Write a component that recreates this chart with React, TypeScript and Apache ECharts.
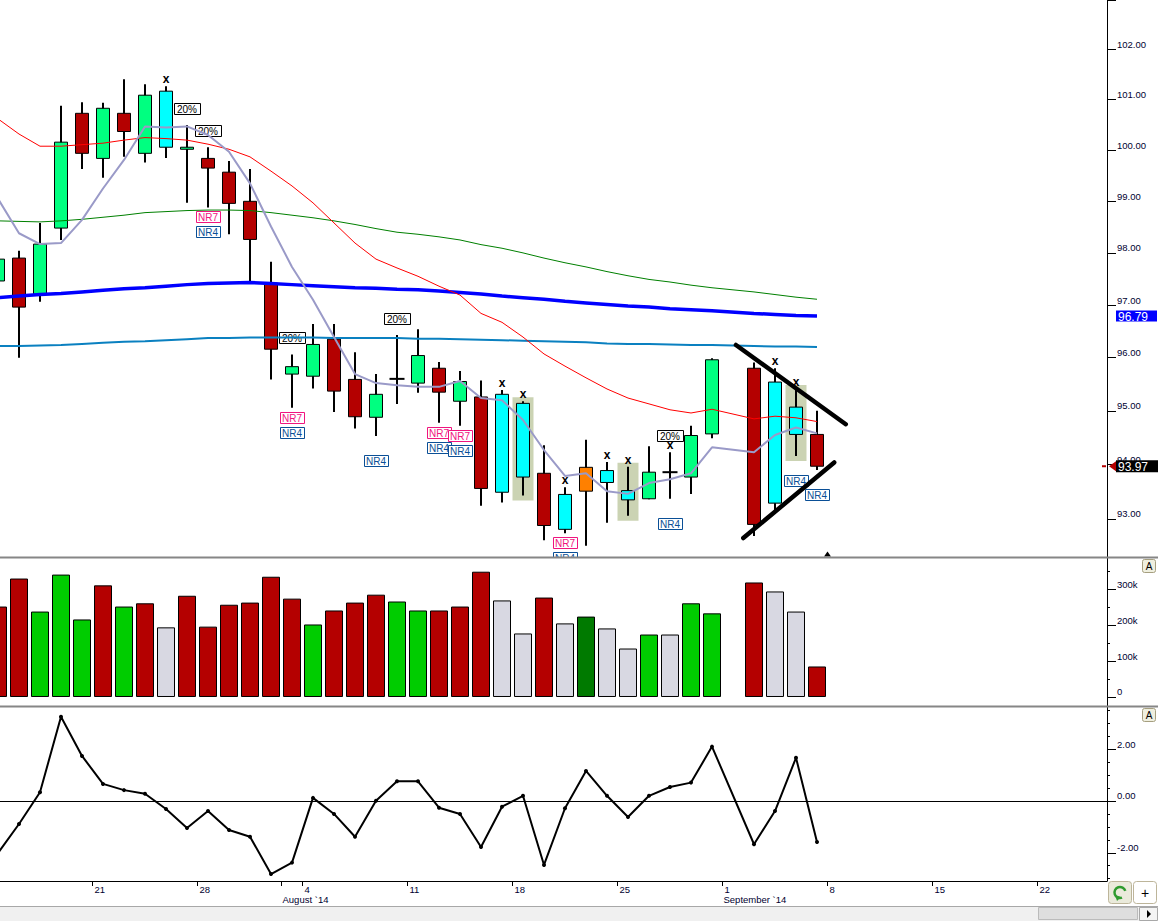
import React, { useEffect, useRef } from "react";
import * as echarts from "echarts";

// ---------- categories (trading-day slots, Sep 1 is a holiday slot) ----------
const DATES = [
  "2014-07-14", "2014-07-15", "2014-07-16", "2014-07-17", "2014-07-18",
  "2014-07-21", "2014-07-22", "2014-07-23", "2014-07-24", "2014-07-25",
  "2014-07-28", "2014-07-29", "2014-07-30", "2014-07-31", "2014-08-01",
  "2014-08-04", "2014-08-05", "2014-08-06", "2014-08-07", "2014-08-08",
  "2014-08-11", "2014-08-12", "2014-08-13", "2014-08-14", "2014-08-15",
  "2014-08-18", "2014-08-19", "2014-08-20", "2014-08-21", "2014-08-22",
  "2014-08-25", "2014-08-26", "2014-08-27", "2014-08-28", "2014-08-29",
  "2014-09-01", "2014-09-02", "2014-09-03", "2014-09-04", "2014-09-05",
  "2014-09-08", "2014-09-09", "2014-09-10", "2014-09-11", "2014-09-12",
  "2014-09-15", "2014-09-16", "2014-09-17", "2014-09-18", "2014-09-19",
  "2014-09-22", "2014-09-23", "2014-09-24", "2014-09-25", "2014-09-26",
];
const MONTH_NAMES = ["January", "February", "March", "April", "May", "June", "July", "August", "September", "October", "November", "December"];

// ---------- price series ----------
const OPEN = [97.46, 97.90, 97.20, 98.48, 100.73, 99.84, 100.73, 99.94, 101.17, 100.02, 99.84, 99.57, 99.00, 97.42, 95.69, 95.65, 96.35, 95.59, 94.88, 95.60, 95.52, 95.80, 95.18, 95.26, 93.49, 95.14, 93.84, 92.81, 93.51, 93.89, 93.52, 93.37, 93.86, 93.77, 94.57, null, 95.80, 93.29, 95.07, 94.56];
const CLOSE = [97.88, 96.96, 98.17, 100.16, 99.94, 100.83, 100.37, 101.09, 100.06, 100.06, 99.65, 98.96, 98.26, 96.16, 95.83, 96.25, 95.37, 94.89, 95.31, 95.60, 96.04, 95.35, 95.55, 93.56, 95.31, 93.77, 92.88, 93.45, 93.95, 93.67, 93.35, 93.86, 93.86, 94.54, 95.96, null, 92.90, 95.54, 94.56, 93.97];
const HIGH = [97.96, 98.04, 98.58, 100.88, 100.95, 100.94, 101.41, 101.31, 101.27, 100.50, 100.06, 99.79, 99.63, 97.83, 96.06, 96.64, 96.64, 96.10, 95.69, 96.43, 96.54, 95.92, 95.75, 95.57, 95.39, 95.18, 94.36, 93.58, 94.46, 94.05, 93.96, 94.34, 94.23, 94.72, 95.99, null, 95.91, 95.80, 95.41, 95.00];
const LOW = [97.38, 96.00, 97.06, 98.25, 99.63, 99.46, 99.87, 99.76, 99.85, 98.97, 98.88, 98.36, 97.44, 95.59, 95.06, 95.42, 94.98, 94.67, 94.53, 95.13, 95.34, 94.78, 94.72, 93.24, 93.30, 93.43, 92.61, 92.74, 92.51, 92.93, 93.06, 93.36, 93.37, 93.46, 94.49, null, 92.69, 93.13, 94.16, 93.90];
const CANDLE_KIND = ["up", "down", "up", "up", "down", "up", "down", "up", "cyan", "up", "down", "down", "down", "down", "up", "up", "down", "down", "up", "doji", "up", "down", "up", "down", "cyan", "cyan", "down", "cyan", "orange", "cyan", "cyan", "up", "doji", "up", "up", null, "down", "cyan", "cyan", "down"];

// ---------- moving averages ----------
const MA_RED = [100.62, 100.32, 100.08, 100.08, 100.11, 100.14, 100.20, 100.25, 100.23, 100.20, 100.12, 100.02, 99.87, 99.59, 99.30, 98.97, 98.58, 98.19, 97.88, 97.71, 97.55, 97.36, 97.19, 96.84, 96.67, 96.39, 96.07, 95.84, 95.62, 95.41, 95.24, 95.13, 95.02, 94.96, 95.03, null, 94.85, 94.90, 94.87, 94.80];
const MA_LAVENDER = [99.05, 98.38, 98.17, 98.19, 98.64, 99.25, 99.81, 100.47, 100.45, 100.47, 100.30, 99.97, 99.35, 98.51, 97.73, 97.10, 96.39, 95.69, 95.52, 95.48, 95.45, 95.45, 95.56, 95.24, 95.20, 94.83, 94.27, 93.79, 93.84, 93.51, 93.46, 93.66, 93.73, 93.84, 94.32, null, 94.23, 94.55, 94.69, 94.58];
const MA_GREEN = [98.62, 98.61, 98.60, 98.62, 98.65, 98.69, 98.73, 98.78, 98.80, 98.82, 98.83, 98.83, 98.82, 98.78, 98.73, 98.68, 98.62, 98.55, 98.47, 98.40, 98.36, 98.31, 98.25, 98.16, 98.09, 98.00, 97.90, 97.81, 97.73, 97.64, 97.56, 97.49, 97.44, 97.38, 97.33, null, 97.25, 97.20, 97.15, 97.11];
const MA_BLUE = [97.14, 97.17, 97.20, 97.22, 97.25, 97.28, 97.31, 97.33, 97.36, 97.39, 97.41, 97.42, 97.43, 97.41, 97.39, 97.37, 97.35, 97.33, 97.32, 97.30, 97.29, 97.27, 97.24, 97.21, 97.17, 97.14, 97.11, 97.07, 97.04, 97.01, 96.98, 96.96, 96.93, 96.91, 96.89, null, 96.84, 96.82, 96.80, 96.79];
const MA_LIGHTBLUE = [96.22, 96.22, 96.23, 96.24, 96.26, 96.28, 96.30, 96.31, 96.33, 96.35, 96.37, 96.37, 96.38, 96.38, 96.38, 96.38, 96.37, 96.37, 96.37, 96.37, 96.36, 96.36, 96.35, 96.34, 96.33, 96.32, 96.31, 96.30, 96.29, 96.27, 96.26, 96.26, 96.25, 96.24, 96.24, null, 96.22, 96.21, 96.21, 96.20];

// ---------- volume ----------
const VOLUME = [252000, 330000, 238000, 341000, 216000, 311000, 252000, 261000, 194000, 282000, 196000, 257000, 263000, 335000, 274000, 202000, 241000, 263000, 285000, 266000, 241000, 241000, 252000, 349000, 269000, 177000, 277000, 205000, 224000, 191000, 135000, 174000, 174000, 261000, 233000, null, 319000, 294000, 238000, 85000];
const VOLUME_KIND = ["red", "red", "green", "green", "green", "red", "green", "red", "gray", "red", "red", "red", "red", "red", "red", "green", "red", "red", "red", "green", "green", "red", "red", "red", "gray", "gray", "red", "gray", "dark", "gray", "gray", "green", "gray", "green", "green", null, "red", "gray", "gray", "red"];

// ---------- oscillator ----------
const OSC = [-2.01, -0.89, 0.34, 3.25, 1.74, 0.66, 0.42, 0.28, -0.31, -1.04, -0.39, -1.12, -1.38, -2.82, -2.38, 0.12, -0.50, -1.38, 0.01, 0.76, 0.76, -0.26, -0.50, -1.78, -0.22, 0.20, -2.47, -0.28, 1.16, 0.20, -0.62, 0.20, 0.54, 0.71, 2.10, null, -1.67, -0.39, 1.67, -1.58];

// ---------- annotations ----------
const X_MARK_DATES = ["2014-07-24", "2014-08-15", "2014-08-18", "2014-08-20", "2014-08-22", "2014-08-25", "2014-08-27", "2014-09-03", "2014-09-04"];
const SHADE_DATES = ["2014-08-18", "2014-08-25", "2014-09-04"];
const PCT20_DATES = ["2014-07-25", "2014-07-28", "2014-08-01", "2014-08-08", "2014-08-27"];
const NR7_DATES = ["2014-07-28", "2014-08-01", "2014-08-12", "2014-08-13", "2014-08-20"];
const NR4_DATES = ["2014-07-28", "2014-08-01", "2014-08-07", "2014-08-12", "2014-08-13", "2014-08-20", "2014-08-27", "2014-09-04", "2014-09-05"];
// trend lines: [slot index, price]
const TREND_UPPER = [[35.14, 96.24], [40.37, 94.75]];
const TREND_LOWER = [[35.49, 92.65], [39.82, 94.04]];

// ---------- tick labels ----------
const PRICE_TICKS = [93, 94, 95, 96, 97, 98, 99, 100, 101, 102, 103];
const PRICE_LABELS = [93, 94, 95, 96, 97, 98, 99, 100, 101, 102];
const VOL_TICKS = [0, 100000, 200000, 300000];
const VOL_MINOR = [50000, 150000, 250000, 350000];
const OSC_TICKS = [-2, 0, 2];
const OSC_MINOR = [-3, -2.5, -1.5, -1, -0.5, 0.5, 1, 1.5, 2.5, 3, 3.5];

// ---------- styling ----------
const FONT = '"Liberation Sans", Arial, sans-serif';
const CANDLE_COLORS: Record<string, string> = { up: "#00FF80", down: "#B40000", cyan: "#00FFFF", orange: "#FF8000" };
const VOLUME_COLORS: Record<string, string> = { red: "#B40000", green: "#00CC00", gray: "#D8D8E2", dark: "#007A00" };
const XMIN = 2 / 21;
const XMAX = 1109 / 21;
const PMIN = 92.306;
const PMAX = 103.002;
const VMIN = -25100;
const VMAX = 387200;
const OMIN = -3.09;
const OMAX = 3.63;

const idxOf = (d: string) => DATES.indexOf(d);
const pts = (arr: (number | null)[]) =>
  arr.map((v, i) => (v == null ? null : [i, v])).filter((p) => p !== null) as number[][];

function buildOption(): any {
  const weekTicks: number[] = [];
  const monthTicks: number[] = [];
  DATES.forEach((d, i) => {
    const dt = new Date(d + "T00:00:00Z");
    if (dt.getUTCDay() === 1 && i > 0) weekTicks.push(i - 0.5);
    if (i > 0 && d.slice(5, 7) !== DATES[i - 1].slice(5, 7)) monthTicks.push(i - 0.5);
  });
  const allTicks = Array.from(new Set([...weekTicks, ...monthTicks])).sort((a, b) => a - b);
  const dayLabel = (v: number) => {
    const d = DATES[Math.round(v + 0.5)];
    return d ? String(Number(d.slice(8, 10))) : "";
  };
  const monthLabel = (v: number) => {
    const d = DATES[Math.round(v + 0.5)];
    return d ? MONTH_NAMES[Number(d.slice(5, 7)) - 1] + " `" + d.slice(2, 4) : "";
  };

  const axText = { color: "#000030", fontFamily: FONT, fontSize: 9.5 };
  const blackLine = { show: true, onZero: false, lineStyle: { color: "#000", width: 1 } };

  const candleData = OPEN.map((o, i) => (o == null ? null : [i, o, CLOSE[i], LOW[i], HIGH[i]])).filter((p) => p !== null);
  const volumeData = VOLUME.map((v, i) =>
    v == null ? null : { value: [i, v], itemStyle: { color: VOLUME_COLORS[VOLUME_KIND[i] as string] } }
  ).filter((p) => p !== null);

  const priceSeriesBase = { xAxisIndex: 0, yAxisIndex: 0, silent: true };

  const maLine = (name: string, data: (number | null)[], color: string, width: number, z: number) => ({
    ...priceSeriesBase,
    name,
    type: "line",
    data: pts(data),
    showSymbol: false,
    symbol: "none",
    lineStyle: { color, width },
    z,
  });

  const boxLabel = (text: string, color: string, fill: string, cx: number, top: number, w: number) => ({
    type: "group",
    children: [
      { type: "rect", shape: { x: Math.round(cx - w / 2) + 0.5, y: Math.round(top) + 0.5, width: w, height: 11 }, style: { fill, stroke: color, lineWidth: 1 } },
      { type: "text", style: { text, x: cx, y: Math.round(top) + 6.5, align: "center", verticalAlign: "middle", font: `10px ${FONT}`, fill: color } },
    ],
  });

  return {
    animation: false,
    backgroundColor: "#FFFFFF",
    textStyle: { fontFamily: FONT },
    grid: [
      { left: 0, right: 51, top: 0, height: 557 },
      { left: 0, right: 51, top: 558, height: 148 },
      { left: 0, right: 51, top: 707, height: 174 },
    ],
    xAxis: [
      { type: "value", gridIndex: 0, min: XMIN, max: XMAX, show: false },
      { type: "value", gridIndex: 1, min: XMIN, max: XMAX, show: false },
      {
        type: "value", gridIndex: 2, min: XMIN, max: XMAX, position: "bottom",
        axisLine: blackLine,
        axisTick: { show: true, customValues: allTicks, length: 5, lineStyle: { color: "#000" } },
        axisLabel: { show: true, customValues: weekTicks, formatter: dayLabel, align: "left", margin: 3, padding: [0, 0, 0, 2], ...axText },
        splitLine: { show: false },
      },
      {
        type: "value", gridIndex: 2, min: XMIN, max: XMAX, position: "bottom",
        axisLine: { show: false, onZero: false },
        axisTick: { show: false },
        axisLabel: { show: true, customValues: monthTicks, formatter: monthLabel, align: "left", margin: 13, padding: [0, 0, 0, 1], ...axText },
        splitLine: { show: false },
      },
    ],
    yAxis: [
      {
        type: "log", logBase: 10, gridIndex: 0, min: PMIN, max: PMAX, position: "right",
        axisLine: blackLine,
        axisTick: { show: true, customValues: PRICE_TICKS, length: 9, lineStyle: { color: "#000" } },
        axisLabel: { show: true, customValues: PRICE_LABELS, formatter: (v: number) => Number(v).toFixed(2), margin: 10, verticalAlign: "bottom", align: "left", ...axText },
        splitLine: { show: false },
      },
      {
        type: "value", gridIndex: 1, min: VMIN, max: VMAX, position: "right",
        axisLine: blackLine,
        axisTick: { show: true, customValues: VOL_TICKS, length: 9, lineStyle: { color: "#000" } },
        axisLabel: { show: true, customValues: VOL_TICKS, formatter: (v: number) => (v === 0 ? "0" : v / 1000 + "k"), margin: 10, verticalAlign: "bottom", align: "left", ...axText },
        splitLine: { show: false },
      },
      {
        type: "value", gridIndex: 1, min: VMIN, max: VMAX, position: "right",
        axisLine: { show: false, onZero: false },
        axisTick: { show: true, customValues: VOL_MINOR, length: 3, lineStyle: { color: "#000" } },
        axisLabel: { show: false },
        splitLine: { show: false },
      },
      {
        type: "value", gridIndex: 2, min: OMIN, max: OMAX, position: "right",
        axisLine: blackLine,
        axisTick: { show: true, customValues: OSC_TICKS, length: 9, lineStyle: { color: "#000" } },
        axisLabel: { show: true, customValues: OSC_TICKS, formatter: (v: number) => Number(v).toFixed(2), margin: 10, verticalAlign: "bottom", align: "left", ...axText },
        splitLine: { show: false },
      },
      {
        type: "value", gridIndex: 2, min: OMIN, max: OMAX, position: "right",
        axisLine: { show: false, onZero: false },
        axisTick: { show: true, customValues: OSC_MINOR, length: 3, lineStyle: { color: "#000" } },
        axisLabel: { show: false },
        splitLine: { show: false },
      },
    ],
    series: [
      // shaded boxes behind special candles
      {
        ...priceSeriesBase, type: "custom", z: 1, clip: true,
        data: SHADE_DATES.map((d) => [idxOf(d), HIGH[idxOf(d)], LOW[idxOf(d)]]),
        encode: { x: 0, y: [1, 2] },
        renderItem: (_p: any, api: any) => {
          const h = api.coord([api.value(0), api.value(1)]);
          const l = api.coord([api.value(0), api.value(2)]);
          return { type: "rect", shape: { x: h[0] - 10.5, y: h[1] - 4, width: 21, height: l[1] - h[1] + 9 }, style: { fill: "#CBD3B3" } };
        },
      },
      // candles
      {
        ...priceSeriesBase, type: "custom", z: 2, clip: true,
        data: candleData,
        encode: { x: 0, y: [1, 2, 3, 4] },
        renderItem: (_p: any, api: any) => {
          const i = api.value(0);
          const kind = CANDLE_KIND[i] as string;
          const o = api.coord([i, api.value(1)]);
          const c = api.coord([i, api.value(2)]);
          const l = api.coord([i, api.value(3)]);
          const h = api.coord([i, api.value(4)]);
          const x = Math.round(o[0]);
          const children: any[] = [
            { type: "line", shape: { x1: x, y1: h[1], x2: x, y2: l[1] }, style: { stroke: "#000", lineWidth: 2 } },
          ];
          if (kind === "doji") {
            children.push({ type: "line", shape: { x1: x - 7.5, y1: o[1], x2: x + 7.5, y2: o[1] }, style: { stroke: "#000", lineWidth: 2 } });
          } else {
            const top = Math.min(o[1], c[1]);
            const ht = Math.max(Math.abs(o[1] - c[1]), 1.5);
            children.push({ type: "rect", shape: { x: x - 6.5, y: top, width: 13, height: ht }, style: { fill: CANDLE_COLORS[kind], stroke: "#000", lineWidth: 1 } });
          }
          return { type: "group", children };
        },
      },
      // "x" marks above highs
      {
        ...priceSeriesBase, type: "custom", z: 3, clip: true,
        data: X_MARK_DATES.map((d) => [idxOf(d), HIGH[idxOf(d)]]),
        encode: { x: 0, y: 1 },
        renderItem: (_p: any, api: any) => {
          const p = api.coord([api.value(0), api.value(1)]);
          return { type: "text", style: { text: "x", x: p[0], y: p[1] - 7, align: "center", verticalAlign: "middle", font: `bold 12px ${FONT}`, fill: "#000" } };
        },
      },
      // 20% labels
      {
        ...priceSeriesBase, type: "custom", z: 3, clip: true,
        data: PCT20_DATES.map((d) => [idxOf(d), HIGH[idxOf(d)]]),
        encode: { x: 0, y: 1 },
        renderItem: (_p: any, api: any) => {
          const p = api.coord([api.value(0), api.value(1)]);
          return boxLabel("20%", "#000", "#FFF", p[0], p[1] - 22, 26);
        },
      },
      // NR7 labels
      {
        ...priceSeriesBase, type: "custom", z: 3, clip: true,
        data: NR7_DATES.map((d) => [idxOf(d), LOW[idxOf(d)]]),
        encode: { x: 0, y: 1 },
        renderItem: (_p: any, api: any) => {
          const p = api.coord([api.value(0), api.value(1)]);
          return boxLabel("NR7", "#F0147F", "#FFF", p[0], p[1] + 4, 24);
        },
      },
      // NR4 labels
      {
        ...priceSeriesBase, type: "custom", z: 3, clip: true,
        data: NR4_DATES.map((d) => [idxOf(d), LOW[idxOf(d)]]),
        encode: { x: 0, y: 1 },
        renderItem: (_p: any, api: any) => {
          const p = api.coord([api.value(0), api.value(1)]);
          return boxLabel("NR4", "#0A4F96", "#FFF", p[0], p[1] + 19, 24);
        },
      },
      maLine("MA long", MA_LIGHTBLUE, "#0A80C0", 2, 4),
      maLine("MA 50", MA_GREEN, "#008000", 1, 4),
      maLine("MA 100", MA_BLUE, "#0000FF", 3.5, 4),
      maLine("MA 20", MA_RED, "#FF0000", 1, 4),
      maLine("MA 3", MA_LAVENDER, "#9A9AC8", 2, 5),
      // trend lines
      {
        ...priceSeriesBase, type: "line", data: TREND_UPPER, symbol: "none", z: 6,
        lineStyle: { color: "#000", width: 4.5, cap: "round" },
      },
      {
        ...priceSeriesBase, type: "line", data: TREND_LOWER, symbol: "none", z: 6,
        lineStyle: { color: "#000", width: 4.5, cap: "round" },
      },
      // last-value flag for the blue average
      {
        ...priceSeriesBase, type: "custom", z: 7, clip: false,
        data: [[MA_BLUE.length - 1, MA_BLUE[MA_BLUE.length - 1]]],
        encode: { x: 0, y: 1 },
        renderItem: (params: any, api: any) => {
          const cs = params.coordSys;
          const y = api.coord([api.value(0), api.value(1)])[1];
          const x0 = cs.x + cs.width + 9;
          return {
            type: "group",
            children: [
              { type: "rect", shape: { x: x0, y: y - 5.5, width: 41, height: 11 }, style: { fill: "#0000FF" } },
              { type: "text", style: { text: Number(api.value(1)).toFixed(2), x: x0 + 2, y: y + 0.5, align: "left", verticalAlign: "middle", font: `12px ${FONT}`, fill: "#FFF" } },
            ],
          };
        },
      },
      // last-close flag
      {
        ...priceSeriesBase, type: "custom", z: 7, clip: false,
        data: [[CLOSE.length - 1, CLOSE[CLOSE.length - 1]]],
        encode: { x: 0, y: 1 },
        renderItem: (params: any, api: any) => {
          const cs = params.coordSys;
          const y = api.coord([api.value(0), api.value(1)])[1];
          const ax = cs.x + cs.width;
          return {
            type: "group",
            children: [
              { type: "line", shape: { x1: ax - 5, y1: y, x2: ax - 1, y2: y }, style: { stroke: "#B40000", lineWidth: 2 } },
              { type: "polygon", shape: { points: [[ax + 2, y], [ax + 9, y - 5], [ax + 9, y + 5]] }, style: { fill: "#B40000" } },
              { type: "rect", shape: { x: ax + 9, y: y - 6, width: 42, height: 12 }, style: { fill: "#000" } },
              { type: "text", style: { text: Number(api.value(1)).toFixed(2), x: ax + 11, y: y + 0.5, align: "left", verticalAlign: "middle", font: `12px ${FONT}`, fill: "#FFF" } },
            ],
          };
        },
      },
      // end-of-data marker at bottom of price panel
      {
        ...priceSeriesBase, type: "custom", z: 7, clip: false,
        data: [[CLOSE.length - 0.5, CLOSE[CLOSE.length - 1]]],
        encode: { x: 0, y: 1 },
        renderItem: (params: any, api: any) => {
          const cs = params.coordSys;
          const x = api.coord([api.value(0), api.value(1)])[0];
          const b = cs.y + cs.height - 0.5;
          return { type: "polygon", shape: { points: [[x - 3.5, b], [x + 3.5, b], [x, b - 5]] }, style: { fill: "#000" } };
        },
      },
      // volume
      {
        type: "bar", xAxisIndex: 1, yAxisIndex: 1, silent: true,
        data: volumeData,
        barWidth: 18,
        itemStyle: { borderColor: "#000", borderWidth: 1 },
        z: 2,
      },
      // oscillator
      {
        type: "line", xAxisIndex: 2, yAxisIndex: 3, silent: true,
        data: pts(OSC),
        symbol: "circle", symbolSize: 4, showSymbol: true,
        itemStyle: { color: "#000" },
        lineStyle: { color: "#000", width: 2 },
        z: 3,
        markLine: {
          silent: true, symbol: "none", label: { show: false },
          lineStyle: { color: "#000", width: 1, type: "solid" },
          data: [{ yAxis: 0 }],
        },
      },
    ],
    graphic: {
      elements: [
        { type: "line", z: 50, shape: { x1: 0, y1: 557.5, x2: 1158, y2: 557.5 }, style: { stroke: "#868686", lineWidth: 2 } },
        { type: "line", z: 50, shape: { x1: 0, y1: 706.5, x2: 1158, y2: 706.5 }, style: { stroke: "#868686", lineWidth: 2 } },
        // "A" buttons
        { type: "rect", z: 50, shape: { x: 1142.5, y: 559.5, width: 13, height: 13, r: 2 }, style: { fill: "#EFEFDF", stroke: "#A69F80", lineWidth: 1 } },
        { type: "text", z: 51, style: { text: "A", x: 1149, y: 566.5, align: "center", verticalAlign: "middle", font: `10px ${FONT}`, fill: "#000" } },
        { type: "rect", z: 50, shape: { x: 1142.5, y: 708.5, width: 13, height: 13, r: 2 }, style: { fill: "#EFEFDF", stroke: "#A69F80", lineWidth: 1 } },
        { type: "text", z: 51, style: { text: "A", x: 1149, y: 715.5, align: "center", verticalAlign: "middle", font: `10px ${FONT}`, fill: "#000" } },
        // bottom buttons
        { type: "rect", z: 50, shape: { x: 1108.5, y: 881.5, width: 23, height: 22, r: 3 }, style: { fill: "#EAEADB", stroke: "#BDB59A", lineWidth: 1 } },
        { type: "arc", z: 51, shape: { cx: 1120, cy: 892.5, r: 5.5, startAngle: 1.2, endAngle: 6.0, clockwise: true }, style: { stroke: "#2E9B2E", lineWidth: 2.5, fill: "none" } },
        { type: "polygon", z: 51, shape: { points: [[1115, 895], [1121, 897], [1117, 901]] }, style: { fill: "#2E9B2E" } },
        { type: "rect", z: 50, shape: { x: 1133.5, y: 881.5, width: 23, height: 22, r: 3 }, style: { fill: "#FFFFFF", stroke: "#BDB59A", lineWidth: 1 } },
        { type: "text", z: 51, style: { text: "+", x: 1145, y: 892.5, align: "center", verticalAlign: "middle", font: `14px ${FONT}`, fill: "#000" } },
        // scroll bar
        { type: "rect", z: 50, shape: { x: 0, y: 906, width: 1158, height: 15 }, style: { fill: "#F0F0F0" } },
        { type: "line", z: 51, shape: { x1: 0, y1: 906.5, x2: 1158, y2: 906.5 }, style: { stroke: "#A8A8A8", lineWidth: 1 } },
        { type: "rect", z: 51, shape: { x: 1038.5, y: 907.5, width: 99, height: 12 }, style: { fill: "#DEDEDE", stroke: "#BBBBBB", lineWidth: 1 } },
        { type: "rect", z: 51, shape: { x: 1139.5, y: 907.5, width: 18, height: 13 }, style: { fill: "#F4F4F4", stroke: "#A8A8A8", lineWidth: 1 } },
        { type: "polygon", z: 52, shape: { points: [[1147, 910], [1147, 918], [1151, 914]] }, style: { fill: "#000" } },
      ],
    },
  };
}

export default function App() {
  const ref = useRef<HTMLDivElement>(null);
  useEffect(() => {
    document.body.style.margin = "0";
    const chart = echarts.init(ref.current as HTMLDivElement, undefined, { renderer: "svg" });
    chart.setOption(buildOption());
    return () => chart.dispose();
  }, []);
  return (
    <div
      ref={ref}
      style={{ position: "fixed", left: 0, top: 0, width: 1158, height: 921, background: "#fff" }}
    />
  );
}
